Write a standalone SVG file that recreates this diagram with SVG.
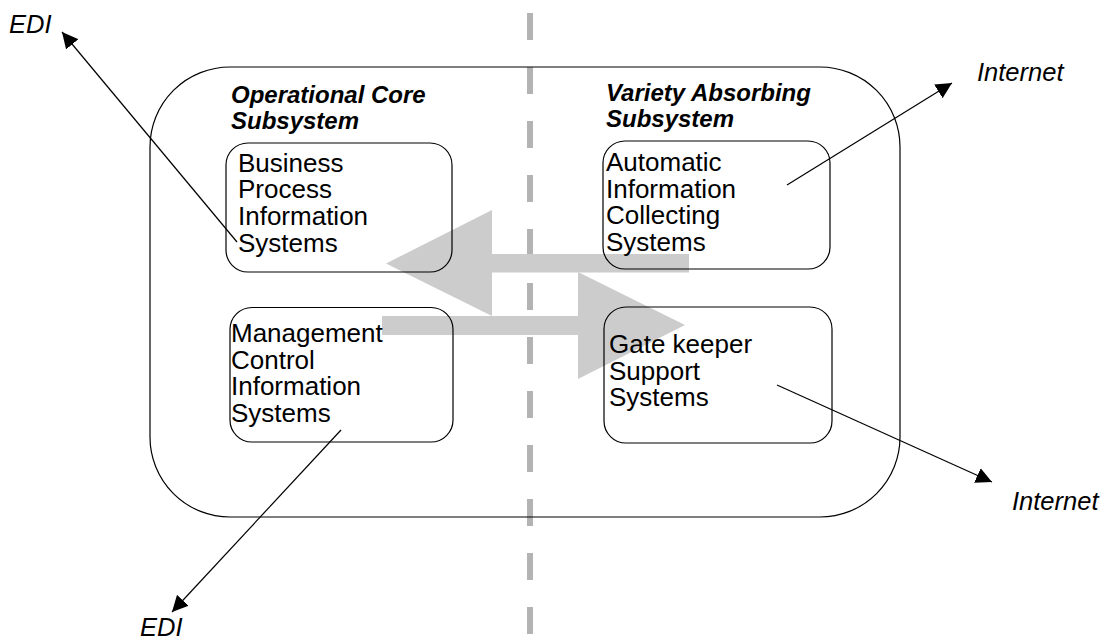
<svg xmlns="http://www.w3.org/2000/svg" width="1113" height="641" viewBox="0 0 1113 641">
  <style>
    .box { fill: none; stroke: #000; stroke-width: 1.2; }
    .body { font-family: "Liberation Sans", Arial, sans-serif; font-size: 26px; fill: #000; }
    .title { font-family: "Liberation Sans", Arial, sans-serif; font-size: 24px; font-weight: bold; font-style: italic; fill: #000; }
    .label { font-family: "Liberation Sans", Arial, sans-serif; font-size: 25.5px; font-style: italic; fill: #000; }
    .conn { stroke: #000; stroke-width: 1.2; fill: none; marker-end: url(#ah); }
    .flow { fill: #cccccc; stroke: none; }
  </style>
  <defs>
    <marker id="ah" markerUnits="userSpaceOnUse" markerWidth="17" markerHeight="16" refX="16" refY="8" orient="auto">
      <path d="M0,0 L16,8 L0,16 Z" fill="#000"/>
    </marker>
  </defs>
  <rect width="1113" height="641" fill="#fff"/>

  <g id="divider">
    <line x1="530" y1="13" x2="530" y2="641" stroke="#b3b3b3" stroke-width="6" stroke-dasharray="27 27"/>
  </g>

  <g id="flows">
    <polygon class="flow" points="386,263.5 492,210 492,254 689,254 689,272.5 492,272.5 492,316"/>
    <polygon class="flow" points="382,316 578,316 578,272 685,325 578,379 578,335 382,335"/>
  </g>

  <g id="operational-core">
    <rect class="box" x="150" y="67" width="750" height="450" rx="80" ry="80"/>
    <text class="title" x="231" y="103">Operational Core</text>
    <text class="title" x="231" y="129">Subsystem</text>
    <text class="title" x="606" y="101">Variety Absorbing</text>
    <text class="title" x="606" y="127">Subsystem</text>
  </g>

  <g id="business-process">
    <rect class="box" x="226" y="143" width="226" height="129" rx="22" ry="22"/>
    <text class="body" x="238" y="171.7">Business</text>
    <text class="body" x="238" y="198.3">Process</text>
    <text class="body" x="238" y="225">Information</text>
    <text class="body" x="238" y="251.7">Systems</text>
  </g>

  <g id="automatic-info">
    <rect class="box" x="603" y="141" width="227" height="128" rx="22" ry="22"/>
    <text class="body" x="606" y="171">Automatic</text>
    <text class="body" x="606" y="197.7">Information</text>
    <text class="body" x="606" y="224.3">Collecting</text>
    <text class="body" x="606" y="251">Systems</text>
  </g>

  <g id="management-control">
    <rect class="box" x="230" y="307.5" width="223" height="134.5" rx="22" ry="22"/>
    <text class="body" x="231" y="342">Management</text>
    <text class="body" x="231" y="368.7">Control</text>
    <text class="body" x="231" y="395.3">Information</text>
    <text class="body" x="231" y="422">Systems</text>
  </g>

  <g id="gate-keeper">
    <rect class="box" x="604" y="307" width="228" height="136" rx="22" ry="22"/>
    <text class="body" x="609" y="353.3">Gate keeper</text>
    <text class="body" x="609" y="379.7">Support</text>
    <text class="body" x="609" y="406">Systems</text>
  </g>

  <g id="external-labels">
    <text class="label" x="9" y="33">EDI</text>
    <text class="label" x="140" y="636">EDI</text>
    <text class="label" x="977" y="81">Internet</text>
    <text class="label" x="1012" y="510">Internet</text>
  </g>

  <g id="connectors">
    <line class="conn" x1="237" y1="242" x2="62" y2="32"/>
    <line class="conn" x1="341" y1="430" x2="172" y2="612"/>
    <line class="conn" x1="787" y1="185" x2="952" y2="83"/>
    <line class="conn" x1="777" y1="385" x2="992" y2="482"/>
  </g>
</svg>
